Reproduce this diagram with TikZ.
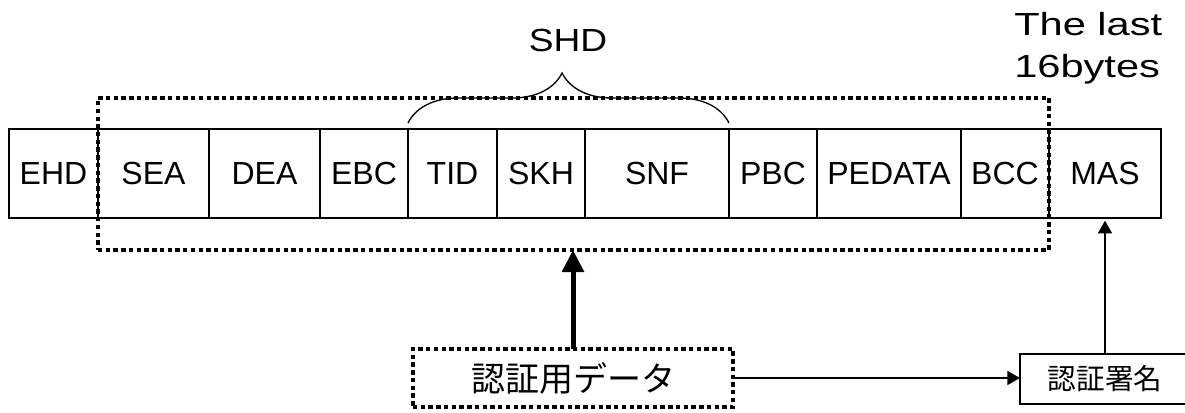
\documentclass[tikz,border=0pt]{standalone}
\usepackage{graphicx}
\usepackage{fontspec}
\setmainfont{Liberation Sans}
\newfontfamily\cjk{Noto Sans CJK JP}
\usetikzlibrary{arrows.meta,decorations.pathreplacing}
\begin{document}
\begin{tikzpicture}[x=0.75pt,y=-0.75pt,
  box/.style 2 args={minimum width=#1*0.75pt,minimum height=#2*0.75pt,inner sep=0pt,outer sep=0pt},
  cell/.style={draw,line width=1pt,box={#1}{89},font=\fontsize{24}{28}\selectfont},
  dotbox/.style={draw,line width=3.3pt,dash pattern=on 3.3pt off 2.5pt},
  thinarrow/.style={line width=1pt,-{Triangle[length=9.5pt,width=10.5pt]}},
  thickarrow/.style={line width=3.75pt,-{Triangle[length=16.5pt,width=16pt]}},
  toplabel/.style={inner sep=0pt,font=\fontsize{24}{28}\selectfont},
  bracestyle/.style={line width=1pt,decorate,decoration={brace,amplitude=37.5pt,aspect=0.48}}]
\useasboundingbox (0,0) rectangle (1185,412);
% cells (centre x, width in px)
\node[cell=89]  (ehd)    at (53.5,173.5)  {EHD};
\node[cell=111] (sea)    at (153.5,173.5) {SEA};
\node[cell=111] (dea)    at (264.5,173.5) {DEA};
\node[cell=88]  (ebc)    at (364,173.5)   {EBC};
\node[cell=89]  (tid)    at (452.5,173.5) {TID};
\node[cell=88]  (skh)    at (541,173.5)   {SKH};
\node[cell=144] (snf)    at (657,173.5)   {SNF};
\node[cell=88]  (pbc)    at (773,173.5)   {PBC};
\node[cell=144] (pedata) at (889,173.5)   {PEDATA};
\node[cell=88]  (bcc)    at (1005,173.5)  {BCC};
\node[cell=112] (mas)    at (1105,173.5)  {MAS};
% dotted group
\node[dotbox, box={951}{152}] (shdbox) at (573.5,174) {};
% brace and labels
\draw[bracestyle] ([yshift=4.5pt]tid.north west) -- ([yshift=4.5pt]snf.north east);
\node[toplabel, anchor=base] (shd) at (568,51) {\scalebox{1.16}[1]{SHD}};
\node[toplabel, anchor=base west] (last1) at (1014,35) {\scalebox{1.3}[1]{The last}};
\node[toplabel, anchor=base west] (last2) at (1014,77) {\scalebox{1.3}[1]{16bytes}};
% bottom boxes
\node[dotbox, box={320}{58}, font=\cjk\fontsize{25.5}{30}\selectfont] (auth) at (573,378) {認証用データ};
\node[draw, line width=1pt, box={170}{50}, font=\cjk\fontsize{21.5}{26}\selectfont] (sig) at (1105,379) {認証署名};
% connectors
\draw[thickarrow] (auth.north) -- (auth.north |- shdbox.south);
\draw[thinarrow] (auth.east) -- (auth.east -| sig.west);
\draw[thinarrow, shorten >=2pt] (sig.north) -- (mas.south);
\end{tikzpicture}
\end{document}
